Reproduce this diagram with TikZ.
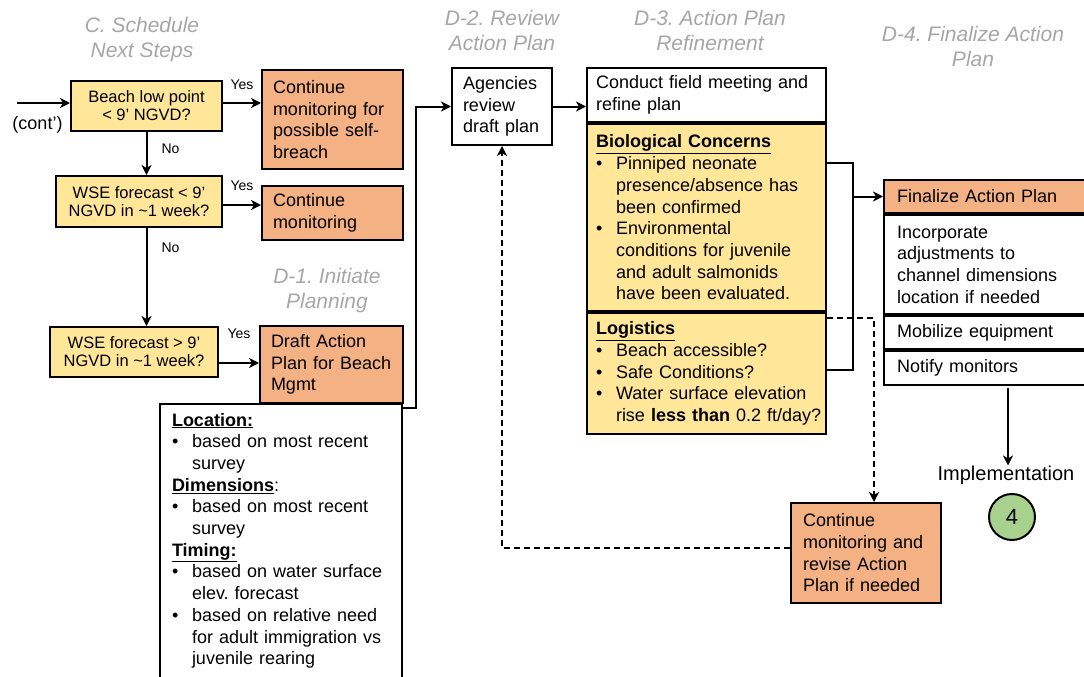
\documentclass[tikz,border=0pt]{standalone}
\usepackage{fontspec}
\setmainfont{Liberation Sans}
\usetikzlibrary{arrows.meta}

\definecolor{StepYellow}{HTML}{FFE699}
\definecolor{StepOrange}{HTML}{F4B183}
\definecolor{StepGreen}{HTML}{A9D18E}
\definecolor{PhaseGrey}{HTML}{A6A6A6}

\tikzstyle{phase-head}=[text=PhaseGrey, align=center, inner sep=0pt, font=\itshape\fontsize{21}{25}\selectfont]
\tikzstyle{query-box}=[draw, line width=2pt, fill=StepYellow, align=center, inner sep=0pt, font=\fontsize{16.5}{18}\selectfont]
\tikzstyle{task-box}=[draw, line width=2pt, fill=StepOrange, align=left, inner ysep=0pt, font=\fontsize{18}{21.7}\selectfont]
\tikzstyle{note-box}=[draw, line width=2pt, fill=white, align=left, inner ysep=0pt, font=\fontsize{18}{21.7}\selectfont]
\tikzstyle{answer-text}=[inner sep=0pt, font=\fontsize{14}{16}\selectfont]
\tikzstyle{flow-arrow}=[line width=2pt, -{Stealth[length=10pt,width=10pt,inset=3pt]}]
\tikzstyle{dash-arrow}=[flow-arrow, dash pattern=on 6pt off 4pt]
\tikzstyle{plain-line}=[line width=2pt]

\newcommand{\itembul}{\makebox[20pt][l]{\textbullet}}
\newcommand{\itemcont}{\hspace*{20pt}}
\frenchspacing

\begin{document}
\begin{tikzpicture}[x=1pt, y=-1pt]
      \useasboundingbox (0,0) rectangle (1084,677);

      \node (ph-C) at (142,40) [phase-head] {C. Schedule\\Next Steps};
      \node (ph-D1) at (327,291) [phase-head] {D-1. Initiate\\Planning};
      \node (ph-D2) at (502,30) [phase-head] {D-2. Review\\Action Plan};
      \node (ph-D3) at (710,30) [phase-head] {D-3. Action Plan\\Refinement};
      \node (ph-D4) at (973,46) [phase-head] {D-4. Finalize Action\\Plan};

      \node (in-cont) at (37.5,125) [inner sep=0pt, font=\fontsize{18}{21.7}\selectfont] {(cont’)};
      \coordinate (in-start) at (17,103);

      \node (q-beach) at (146.5,106) [query-box, minimum width=151pt, minimum height=50pt] {Beach low point\\< 9’ NGVD?};
      \node (q-wse1) at (139,201.5) [query-box, minimum width=166pt, minimum height=51pt] {WSE forecast < 9’\\NGVD in \textasciitilde1 week?};
      \node (q-wse2) at (134,352) [query-box, minimum width=168pt, minimum height=50pt] {WSE forecast > 9’\\NGVD in \textasciitilde1 week?};

      \node (a-self) at (332.5,119.5) [task-box, text width=119pt, inner xsep=11pt, minimum height=99pt] {Continue\\monitoring for\\possible self-\\breach};
      \node (a-mon) at (332.5,213) [task-box, text width=119pt, inner xsep=11pt, minimum height=54pt] {Continue\\monitoring};
      \node (a-draft) at (331.5,364.5) [task-box, text width=121pt, inner xsep=11pt, minimum height=77pt] {Draft Action\\Plan for Beach\\Mgmt};

      \node (plan-spec) at (281,403) [note-box, anchor=north, text width=218pt, inner xsep=12pt, inner ysep=9pt] {\underline{\textbf{Location:}}\\
        \itembul based on most recent\\
        \itemcont survey\\
        \underline{\textbf{Dimensions}}:\\
        \itembul based on most recent\\
        \itemcont survey\\
        \underline{\textbf{Timing:}}\\
        \itembul based on water surface\\
        \itemcont elev. forecast\\
        \itembul based on relative need\\
        \itemcont for adult immigration vs\\
        \itemcont juvenile rearing\\[20pt]
        \mbox{}};

      \node (rev-agency) at (502,106.5) [note-box, text width=78pt, inner xsep=11pt, minimum height=77pt] {Agencies\\review\\draft plan};

      \node (ref-meet) at (706.5,95) [note-box, text width=221pt, inner xsep=9pt, minimum height=54pt] {Conduct field meeting and\\refine plan};
      \node (ref-bio) at (ref-meet.south) [note-box, anchor=north, fill=StepYellow, text width=221pt, inner xsep=9pt, minimum height=187pt] {\underline{\textbf{Biological Concerns}}\\
        \itembul Pinniped neonate\\
        \itemcont presence/absence has\\
        \itemcont been confirmed\\
        \itembul Environmental\\
        \itemcont conditions for juvenile\\
        \itemcont and adult salmonids\\
        \itemcont have been evaluated.};
      \node (ref-log) at (ref-bio.south) [note-box, anchor=north, fill=StepYellow, text width=221pt, inner xsep=9pt, minimum height=121pt] {\underline{\textbf{Logistics}}\\
        \itembul Beach accessible?\\
        \itembul Safe Conditions?\\
        \itembul Water surface elevation\\
        \itemcont\mbox{rise \textbf{less than} 0.2 ft/day?}};

      \node (fin-head) at (992,196.5) [task-box, text width=190pt, inner xsep=13pt, minimum height=33pt] {Finalize Action Plan};
      \node (fin-adjust) at (fin-head.south) [note-box, anchor=north, text width=190pt, inner xsep=13pt, minimum height=99pt] {Incorporate\\adjustments to\\channel dimensions\\location if needed};
      \node (fin-mobilize) at (fin-adjust.south) [note-box, anchor=north, text width=190pt, inner xsep=13pt, minimum height=33pt] {Mobilize equipment};
      \node (fin-notify) at (fin-mobilize.south) [note-box, anchor=north, text width=190pt, inner xsep=13pt, minimum height=34pt] {Notify monitors};

      \node (mon-revise) at (866,553) [task-box, text width=126pt, inner xsep=12pt, minimum height=100pt] {Continue\\monitoring and\\revise Action\\Plan if needed};

      \node (impl-label) at (1006,475) [inner sep=0pt, font=\fontsize{20}{24}\selectfont] {Implementation};
      \node (impl-num) at (1012,517) [circle, draw, line width=2pt, fill=StepGreen, minimum size=46pt, inner sep=0pt, font=\fontsize{22}{24}\selectfont] {4};
      \coordinate (impl-from) at (1008,388);

      \coordinate (jn-rise) at (416,408);
      \coordinate (br-top) at (853,163);
      \coordinate (br-bot) at (853,370);
      \coordinate (dr-turn) at (874,318);
      \coordinate (dr-back) at (502,548);

      \draw[flow-arrow] (in-start) -- (in-start -| q-beach.west);
      \draw[flow-arrow] ([yshift=3pt]q-beach.east) -- ([yshift=3pt]q-beach.east -| a-self.west) node[answer-text, midway, above=12pt] (yes-1) {Yes};
      \draw[flow-arrow] ([yshift=-3.5pt]q-wse1.east) -- ([yshift=-3.5pt]q-wse1.east -| a-mon.west) node[answer-text, midway, above=13pt] (yes-2) {Yes};
      \draw[flow-arrow] ([yshift=-11pt]q-wse2.east) -- ([yshift=-11pt]q-wse2.east -| a-draft.west) node[answer-text, midway, above=23pt] (yes-3) {Yes};
      \draw[flow-arrow] (q-beach.south) -- (q-beach.south |- q-wse1.north) node[answer-text, pos=0.38, right=14pt] (no-1) {No};
      \draw[flow-arrow] (q-beach.south |- q-wse1.south) -- (q-beach.south |- q-wse2.north) node[answer-text, pos=0.2, right=14pt] (no-2) {No};

      \draw[flow-arrow] (plan-spec.east |- jn-rise) -- (jn-rise) -- (jn-rise |- rev-agency.west) -- (rev-agency.west);
      \draw[flow-arrow] (rev-agency.east) -- (ref-meet.west |- rev-agency.east);

      \draw[plain-line] (ref-bio.east |- br-top) -- (br-top) -- (br-bot) -- (ref-log.east |- br-bot);
      \draw[flow-arrow] (br-top |- fin-head.west) -- (fin-head.west);

      \draw[dash-arrow] (ref-log.east |- dr-turn) -- (dr-turn) -- (dr-turn |- mon-revise.north);
      \draw[dash-arrow] (mon-revise.west |- dr-back) -- (dr-back) -- (dr-back |- rev-agency.south);

      \draw[flow-arrow] (impl-from) -- (impl-from |- impl-label.north);
    \end{tikzpicture}
\end{document}
